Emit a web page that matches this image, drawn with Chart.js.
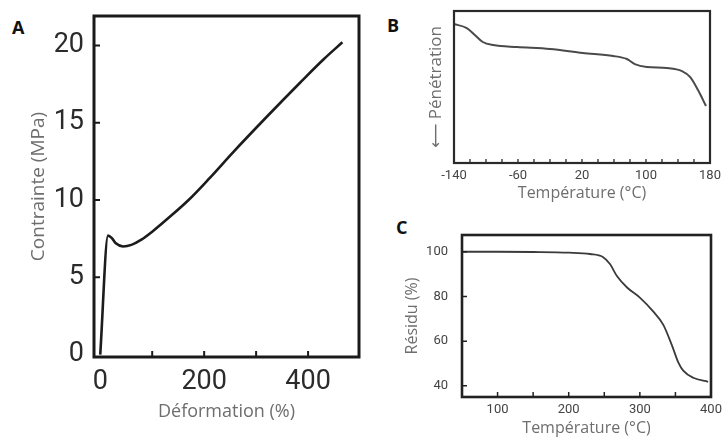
<!DOCTYPE html>
<html>
<head>
<meta charset="utf-8">
<script src="https://cdn.jsdelivr.net/npm/chart.js@4.4.1/dist/chart.umd.min.js"></script>
<style>
  html, body { margin: 0; padding: 0; background: #fff; }
  body { width: 725px; height: 444px; position: relative; overflow: hidden; }
  canvas { position: absolute; }
  .panel { position: absolute; font-family: "Open Sans", sans-serif; font-weight: 700; font-size: 18px; color: #111; line-height: 1; }
</style>
</head>
<body>
<div class="panel" style="left:12px; top:18px;">A</div>
<div class="panel" style="left:387px; top:16px;">B</div>
<div class="panel" style="left:396px; top:218px;">C</div>
<canvas id="chartA" width="370" height="444" style="left:0; top:0;"></canvas>
<canvas id="chartB" width="355" height="215" style="left:370px; top:0;"></canvas>
<canvas id="chartC" width="355" height="229" style="left:370px; top:215px;"></canvas>
<script>
// A — tensile test: stress vs. strain
const strainPct = [0, 15, 22, 30, 44, 60, 80, 100, 130, 170, 210, 256, 321, 385, 430, 466];
const stressMPa = [0, 7.7, 7.55, 7.2, 7.0, 7.1, 7.45, 7.95, 8.8, 10.0, 11.4, 13.1, 15.4, 17.6, 19.1, 20.2];
const strainTicks = [0, 100, 200, 300, 400];
const strainLabels = [0, 200, 400];
const stressTicks = [0, 5, 10, 15, 20];

// B — thermomechanical analysis: penetration vs. temperature (arbitrary units)
const tmaTempC = [-140, -124, -114, -104, -91, -61, -20, 21, 59, 76, 86, 101, 126, 145, 155, 165, 175];
const tmaPenetration = [91.4, 88.8, 84.2, 79.6, 77.6, 76.3, 75.0, 72.4, 70.4, 68.4, 65.1, 63.2, 62.5, 60.5, 56.6, 48.0, 37.5];
const tmaTicks = [-140, -120, -100, -80, -60, -40, -20, 0, 20, 40, 60, 80, 100, 120, 140, 160, 180];
const tmaLabels = [-140, -60, 20, 100, 180];

// C — thermogravimetry: residue vs. temperature
const tgaTempC = [50, 100, 150, 200, 230, 248, 258, 268, 282, 300, 319, 333, 345, 354, 361, 375, 396];
const tgaResidue = [100, 100, 99.9, 99.6, 99.0, 97.7, 94.5, 89.0, 84.0, 79.5, 73.2, 67.3, 58.2, 50.5, 46.8, 43.6, 41.8];
const tgaTicksX = [100, 150, 200, 250, 300, 350, 400];
const tgaLabelsX = [100, 200, 300, 400];
const tgaTicksY = [40, 60, 80, 100];

const titleFont = { family: '"Open Sans", sans-serif', size: 16 };
const titleColor = '#6e6e6e';

// Frame around the plot area plus short inward tick marks
const framePlugin = {
  id: 'frame',
  afterDatasetsDraw(chart, args, opts) {
    const { ctx, chartArea: a, scales } = chart;
    ctx.save();
    ctx.strokeStyle = opts.color;
    ctx.lineWidth = opts.tickWidth;
    ctx.beginPath();
    (opts.xMarks || []).forEach(v => {
      const px = scales.x.getPixelForValue(v);
      ctx.moveTo(px, a.bottom);
      ctx.lineTo(px, a.bottom - opts.tickLen);
    });
    (opts.yMarks || []).forEach(v => {
      const py = scales.y.getPixelForValue(v);
      ctx.moveTo(a.left, py);
      ctx.lineTo(a.left + opts.tickLen, py);
    });
    ctx.stroke();
    ctx.lineWidth = opts.width;
    ctx.strokeRect(a.left, a.top, a.right - a.left, a.bottom - a.top);
    ctx.restore();
  }
};
Chart.register(framePlugin);

// fixed axis box sizes; no extra room reserved for overhanging labels
function fixBox(s, w, h) {
  if (w !== null) s.width = w;
  if (h !== null) s.height = h;
  s.paddingTop = 0; s.paddingBottom = 0; s.paddingLeft = 0; s.paddingRight = 0;
}

function makeChart(id, cfg) {
  const xs = cfg.x, ys = cfg.y;
  return new Chart(document.getElementById(id), {
    type: 'line',
    data: {
      datasets: [{
        data: xs.map((x, i) => ({ x, y: ys[i] })),
        borderColor: cfg.lineColor,
        borderWidth: cfg.lineWidth,
        pointRadius: 0,
        cubicInterpolationMode: 'monotone',
        fill: false
      }]
    },
    options: {
      responsive: false,
      animation: false,
      devicePixelRatio: 1,
      layout: { padding: cfg.padding, autoPadding: false },
      plugins: {
        legend: { display: false },
        tooltip: { enabled: false },
        frame: cfg.frame
      },
      scales: {
        x: {
          type: 'linear',
          min: cfg.xMin, max: cfg.xMax,
          afterBuildTicks: s => { s.ticks = cfg.xTicks.map(v => ({ value: v })); },
          afterFit: s => fixBox(s, null, cfg.xAxisHeight),
          grid: { display: false, drawTicks: false },
          border: { display: false },
          ticks: {
            autoSkip: false, maxRotation: 0, padding: cfg.xTickPad,
            font: cfg.tickFont, color: cfg.tickColor,
            callback: v => cfg.xLabels.includes(v) ? String(v) : ''
          },
          title: {
            display: true, text: cfg.xTitle, color: titleColor,
            font: cfg.xTitleFont || titleFont,
            padding: { top: 0, bottom: cfg.xTitlePad }
          }
        },
        y: {
          type: 'linear',
          min: cfg.yMin, max: cfg.yMax,
          afterBuildTicks: s => { s.ticks = cfg.yTicks.map(v => ({ value: v })); },
          afterFit: s => fixBox(s, cfg.yAxisWidth, null),
          grid: { display: false, drawTicks: false },
          border: { display: false },
          ticks: {
            display: cfg.yLabels.length > 0,
            autoSkip: false, padding: cfg.yTickPad,
            font: cfg.tickFont, color: cfg.tickColor,
            callback: v => cfg.yLabels.includes(v) ? String(v) : ''
          },
          title: {
            display: true, text: cfg.yTitle, color: titleColor,
            font: cfg.yTitleFont || titleFont,
            padding: { top: cfg.yTitlePad, bottom: 0 }
          }
        }
      }
    }
  });
}

makeChart('chartA', {
  x: strainPct, y: stressMPa,
  xMin: -12, xMax: 498, yMin: -0.15, yMax: 21.9,
  xTicks: strainTicks, xLabels: strainLabels,
  yTicks: stressTicks, yLabels: stressTicks,
  padding: { top: 16, right: 11, left: 0, bottom: 0 },
  xAxisHeight: 87, yAxisWidth: 94,
  xTickPad: 9, yTickPad: 10,
  tickFont: { family: 'Roboto, sans-serif', size: 27 }, tickColor: '#2b2b2b',
  xTitle: 'Déformation (%)', xTitlePad: 21,
  yTitle: 'Contrainte (MPa)', yTitlePad: 27,
  xTitleFont: { family: '"Open Sans", sans-serif', size: 18 },
  yTitleFont: { family: '"Open Sans", sans-serif', size: 19 },
  lineColor: '#1c1c1c', lineWidth: 2.6,
  frame: { color: '#1a1a1a', width: 3, tickWidth: 2, tickLen: 6,
           xMarks: [100, 200, 300, 400], yMarks: [5, 10, 15, 20] }
});

makeChart('chartB', {
  x: tmaTempC, y: tmaPenetration,
  xMin: -140, xMax: 180, yMin: 0, yMax: 100,
  xTicks: tmaTicks, xLabels: tmaLabels,
  yTicks: [], yLabels: [],
  padding: { top: 11, right: 15, left: 0, bottom: 0 },
  xAxisHeight: 52, yAxisWidth: 84,
  xTickPad: 5, yTickPad: 8,
  tickFont: { family: 'Roboto, sans-serif', size: 13 }, tickColor: '#444',
  xTitle: 'Température (°C)', xTitlePad: 12,
  yTitle: '⟵ Pénétration', yTitlePad: 56,
  yTitleFont: { family: '"Open Sans", "DejaVu Sans", sans-serif', size: 17 },
  lineColor: '#4a4a4a', lineWidth: 2,
  frame: { color: '#2a2a2a', width: 2.2, tickWidth: 1.3, tickLen: 4,
           xMarks: tmaTicks.slice(1, -1), yMarks: [] }
});

makeChart('chartC', {
  x: tgaTempC, y: tgaResidue,
  xMin: 50, xMax: 400, yMin: 35, yMax: 107.5,
  xTicks: tgaTicksX, xLabels: tgaLabelsX,
  yTicks: tgaTicksY, yLabels: tgaTicksY,
  padding: { top: 20, right: 14, left: 0, bottom: 0 },
  xAxisHeight: 47, yAxisWidth: 92,
  xTickPad: 5, yTickPad: 14,
  tickFont: { family: 'Roboto, sans-serif', size: 13 }, tickColor: '#444',
  xTitle: 'Température (°C)', xTitlePad: 6,
  yTitle: 'Résidu (%)', yTitlePad: 33,
  lineColor: '#3a3a3a', lineWidth: 1.8,
  frame: { color: '#222', width: 2.6, tickWidth: 1.5, tickLen: 5,
           xMarks: [100, 150, 200, 250, 300, 350], yMarks: tgaTicksY }
});
</script>
</body>
</html>
